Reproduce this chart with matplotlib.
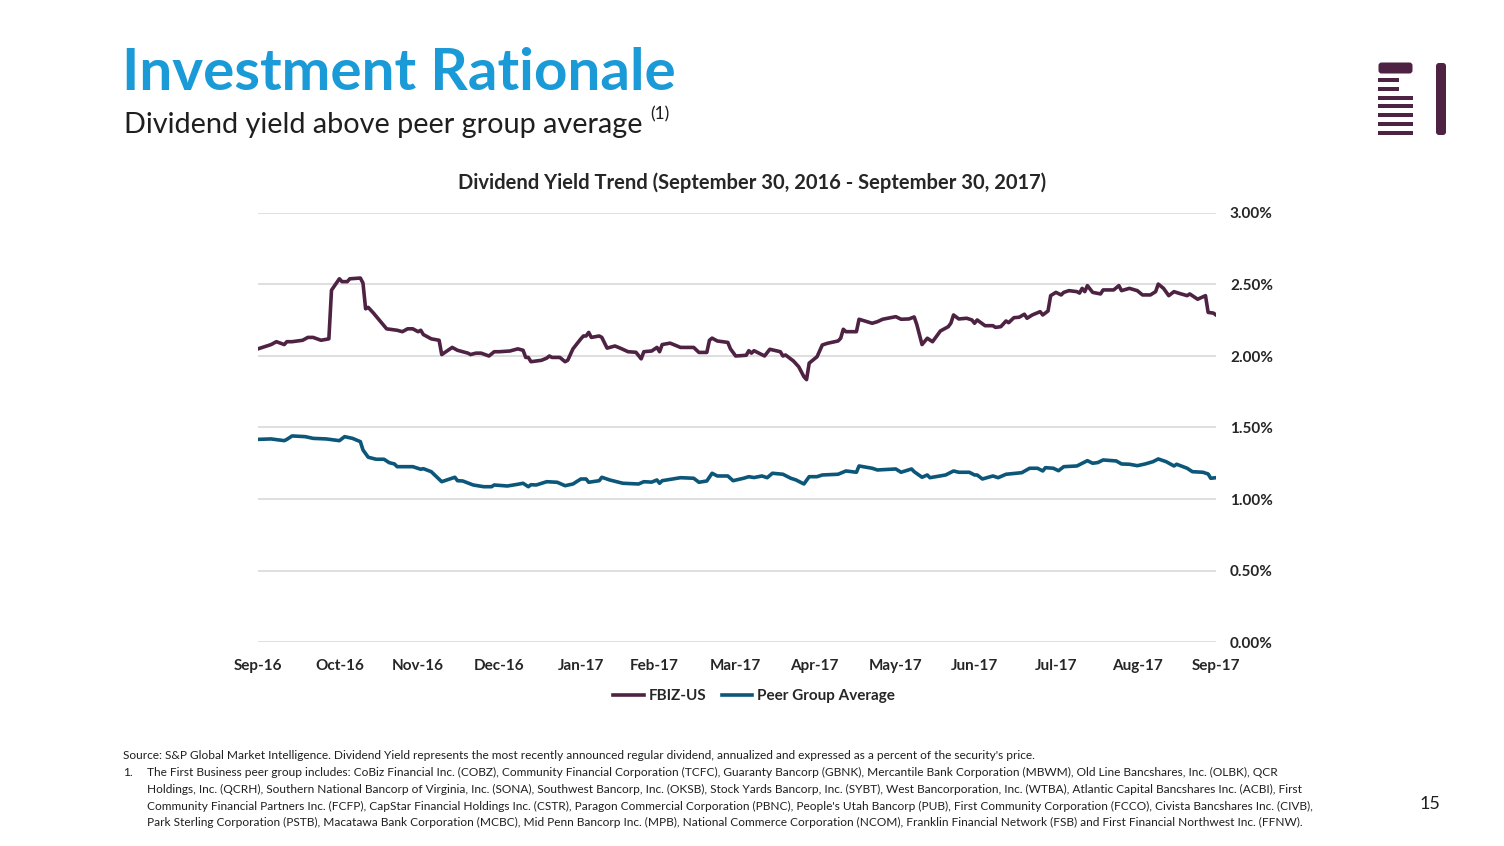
import datetime as dt
import matplotlib
matplotlib.use("Agg")
import matplotlib.pyplot as plt
import matplotlib.dates as mdates
from matplotlib.patches import Rectangle, FancyBboxPatch
import pandas as pd

plt.rcParams['font.family'] = ['Lato', 'DejaVu Sans']

start = dt.date(2016, 9, 30)

# days since Sep 30, 2016 and dividend yield (%)
fbiz_days = [0, 5, 7, 10, 11, 13, 17, 19, 21, 24, 27, 28, 31, 32, 34, 35, 39, 40, 41, 42,
             44, 49, 53, 55, 57, 59, 61, 62, 63, 66, 69, 70, 74, 76, 80, 81, 83, 85, 88, 90,
             92, 96, 99, 101, 102, 103, 104, 108, 110, 111, 112, 115, 117, 118, 120, 123, 124, 125, 126, 127,
             130, 131, 133, 136, 138, 141, 144, 146, 147, 150, 152, 153, 154, 157, 161, 166, 168, 171, 172, 173,
             175, 179, 180, 182, 186, 187, 188, 189, 193, 195, 199, 200, 201, 204, 206, 208, 209, 210, 213, 215,
             217, 221, 222, 223, 224, 228, 229, 234, 236, 238, 243, 245, 248, 250, 251, 253, 255, 257, 260, 263,
             264, 265, 267, 270, 272, 273, 274, 277, 280, 281, 283, 285, 286, 288, 290, 292, 293, 295, 298, 299,
             301, 302, 304, 306, 307, 309, 312, 313, 314, 315, 316, 318, 321, 322, 326, 328, 329, 332, 335, 337,
             340, 342, 343, 345, 347, 349, 351, 354, 355, 358, 361, 362, 364, 365]
fbiz_yield = [2.05, 2.08, 2.10, 2.08, 2.10, 2.10, 2.11, 2.13, 2.13, 2.11, 2.12, 2.46, 2.54, 2.52, 2.52, 2.54, 2.545, 2.51, 2.33, 2.34,
              2.30, 2.19, 2.18, 2.17, 2.19, 2.19, 2.17, 2.18, 2.15, 2.12, 2.11, 2.01, 2.06, 2.04, 2.02, 2.01, 2.02, 2.02, 2.00, 2.03,
              2.03, 2.035, 2.05, 2.04, 1.99, 1.99, 1.96, 1.97, 1.985, 2.00, 1.99, 1.99, 1.96, 1.97, 2.05, 2.12, 2.14, 2.14, 2.165, 2.13,
              2.14, 2.13, 2.055, 2.07, 2.055, 2.03, 2.026, 1.98, 2.03, 2.035, 2.06, 2.03, 2.08, 2.09, 2.06, 2.06, 2.025, 2.025, 2.11, 2.125,
              2.105, 2.095, 2.05, 2.00, 2.005, 2.037, 2.02, 2.037, 2.00, 2.047, 2.03, 2.00, 2.007, 1.965, 1.925, 1.855, 1.835, 1.95, 1.995, 2.077,
              2.089, 2.105, 2.124, 2.187, 2.17, 2.17, 2.257, 2.229, 2.24, 2.257, 2.275, 2.257, 2.259, 2.273, 2.22, 2.08, 2.124, 2.10, 2.175, 2.205,
              2.23, 2.287, 2.259, 2.264, 2.252, 2.229, 2.252, 2.212, 2.212, 2.20, 2.205, 2.245, 2.233, 2.268, 2.271, 2.292, 2.264, 2.287, 2.31, 2.287,
              2.315, 2.422, 2.445, 2.427, 2.445, 2.457, 2.45, 2.44, 2.473, 2.45, 2.492, 2.445, 2.434, 2.462, 2.462, 2.492, 2.457, 2.473, 2.457, 2.427,
              2.427, 2.45, 2.503, 2.473, 2.422, 2.45, 2.438, 2.422, 2.434, 2.397, 2.422, 2.305, 2.30, 2.287]

peer_days = [0, 5, 10, 11, 13, 18, 21, 26, 31, 33, 36, 39, 40, 42, 45, 48, 50, 52, 53, 59,
             62, 63, 66, 70, 75, 76, 78, 82, 86, 89, 90, 95, 99, 101, 103, 104, 106, 110, 114, 117,
             120, 123, 125, 126, 130, 131, 134, 139, 145, 147, 150, 152, 153, 154, 161, 166, 168, 171, 173, 175,
             179, 181, 185, 187, 189, 192, 194, 196, 200, 203, 205, 208, 210, 213, 215, 221, 224, 228, 229, 234,
             236, 243, 245, 249, 250, 253, 255, 256, 262, 265, 267, 271, 273, 274, 276, 280, 282, 285, 291, 294,
             297, 299, 300, 303, 305, 307, 312, 316, 318, 320, 322, 327, 329, 332, 335, 338, 341, 343, 346, 349,
             350, 354, 356, 360, 362, 363, 365]
peer_yield = [1.417, 1.42, 1.408, 1.417, 1.441, 1.436, 1.424, 1.42, 1.408, 1.436, 1.424, 1.401, 1.343, 1.292, 1.278, 1.278, 1.254, 1.245, 1.226, 1.226,
              1.208, 1.212, 1.191, 1.121, 1.152, 1.128, 1.126, 1.098, 1.086, 1.086, 1.098, 1.091, 1.103, 1.11, 1.086, 1.10, 1.098, 1.121, 1.117, 1.093,
              1.105, 1.14, 1.14, 1.117, 1.128, 1.152, 1.133, 1.11, 1.105, 1.121, 1.118, 1.133, 1.11, 1.128, 1.149, 1.145, 1.117, 1.126, 1.18, 1.161,
              1.161, 1.128, 1.145, 1.156, 1.15, 1.161, 1.149, 1.18, 1.173, 1.145, 1.133, 1.105, 1.156, 1.156, 1.168, 1.173, 1.196, 1.187, 1.231, 1.215,
              1.203, 1.21, 1.187, 1.21, 1.191, 1.152, 1.168, 1.149, 1.168, 1.196, 1.187, 1.187, 1.168, 1.168, 1.14, 1.161, 1.149, 1.173, 1.184, 1.215,
              1.215, 1.196, 1.219, 1.215, 1.198, 1.226, 1.231, 1.268, 1.25, 1.255, 1.273, 1.266, 1.245, 1.243, 1.233, 1.245, 1.261, 1.28, 1.261, 1.231,
              1.243, 1.215, 1.191, 1.187, 1.175, 1.145, 1.149]

y_ticks = [0.0, 0.5, 1.0, 1.5, 2.0, 2.5, 3.0]

maroon = "#4E2242"
teal = "#0C5679"
W, H = 1504, 846

fbiz_dates = [start + dt.timedelta(days=d) for d in fbiz_days]
peer_dates = [start + dt.timedelta(days=d) for d in peer_days]

fig = plt.figure(figsize=(W / 100, H / 100), dpi=100)
fig.patch.set_facecolor("white")

# header
fig.text(122 / W, 1 - 90 / H, "Investment Rationale", color="#1A9AD7", fontsize=42, fontweight="bold", va="baseline")
fig.text(124 / W, 1 - 133 / H, "Dividend yield above peer group average", color="#1F1F1F", fontsize=20.8, va="baseline")
fig.text(650 / W, 1 - 119 / H, "(1)", color="#1F1F1F", fontsize=12.5, va="baseline")

# logo
lax = fig.add_axes([1370 / W, 1 - 142 / H, 85 / W, 84 / H])
lax.set_xlim(1370, 1455)
lax.set_ylim(142, 58)
lax.axis("off")
lax.add_patch(FancyBboxPatch((1380, 64), 31, 8, boxstyle="round,pad=1.5,rounding_size=3", fc=maroon, ec="none"))
for y0 in [78, 87]:
    lax.add_patch(Rectangle((1378, y0), 21, 4, fc=maroon, ec="none"))
for y0 in [96, 104, 113, 122, 131]:
    lax.add_patch(Rectangle((1378, y0), 35, 4, fc=maroon, ec="none"))
lax.add_patch(FancyBboxPatch((1437, 64), 8, 70, boxstyle="round,pad=1,rounding_size=3", fc=maroon, ec="none"))

# chart
ax = fig.add_axes([258 / W, 1 - 642 / H, 958 / W, 429 / H])
ax.plot(fbiz_dates, fbiz_yield, color=maroon, lw=2.6, label="FBIZ-US", solid_joinstyle="round")
ax.plot(peer_dates, peer_yield, color=teal, lw=2.6, label="Peer Group Average", solid_joinstyle="round")
ax.set_xlim(start, start + dt.timedelta(days=365))
ax.set_ylim(0, 3)
ax.set_yticks(y_ticks)
ax.set_yticklabels(["{:.2f}%".format(v) for v in y_ticks])
ax.yaxis.tick_right()
ax.yaxis.grid(True, color="#D9D9D9", lw=1.2)
ax.set_axisbelow(True)
month_ends = [d.date() for d in pd.date_range("2016-09-30", "2017-09-30", freq="ME")]
ax.set_xticks(month_ends)
ax.xaxis.set_major_formatter(mdates.DateFormatter("%b-%y"))
ax.tick_params(axis="both", length=0, labelsize=11, colors="#262626")
ax.tick_params(axis="x", pad=12)
ax.tick_params(axis="y", pad=10)
for lbl in ax.get_xticklabels() + ax.get_yticklabels():
    lbl.set_fontweight("bold")
for s in ax.spines.values():
    s.set_visible(False)

fig.text(752 / W, 1 - 189 / H, "Dividend Yield Trend (September 30, 2016 - September 30, 2017)",
         ha="center", va="baseline", fontsize=14.5, fontweight="bold", color="#262626")

leg = fig.legend(loc="center", bbox_to_anchor=(754 / W, 1 - 696 / H), ncol=2, frameon=False,
                 handlelength=2.0, columnspacing=1.0, handletextpad=0.3,
                 prop={"weight": "bold", "size": 11})
for t in leg.get_texts():
    t.set_color("#262626")

# footnotes
fn = 8.55
fig.text(123 / W, 1 - 759 / H, "Source: S&P Global Market Intelligence. Dividend Yield represents the most recently announced regular dividend, annualized and expressed as a percent of the security's price.",
         fontsize=fn, color="#1F1F1F", va="baseline")
fig.text(123 / W, 1 - 776 / H, "1.", fontsize=fn, color="#1F1F1F", va="baseline")
note_lines = [
    "The First Business peer group includes: CoBiz Financial Inc. (COBZ), Community Financial Corporation (TCFC), Guaranty Bancorp (GBNK), Mercantile Bank Corporation (MBWM), Old Line Bancshares, Inc. (OLBK), QCR",
    "Holdings, Inc. (QCRH), Southern National Bancorp of Virginia, Inc. (SONA), Southwest Bancorp, Inc. (OKSB), Stock Yards Bancorp, Inc. (SYBT), West Bancorporation, Inc. (WTBA), Atlantic Capital Bancshares Inc. (ACBI), First",
    "Community Financial Partners Inc. (FCFP), CapStar Financial Holdings Inc. (CSTR), Paragon Commercial Corporation (PBNC), People's Utah Bancorp (PUB), First Community Corporation (FCCO), Civista Bancshares Inc. (CIVB),",
    "Park Sterling Corporation (PSTB), Macatawa Bank Corporation (MCBC), Mid Penn Bancorp Inc. (MPB), National Commerce Corporation (NCOM), Franklin Financial Network (FSB) and First Financial Northwest Inc. (FFNW).",
]
for i, line in enumerate(note_lines):
    fig.text(147 / W, 1 - (776 + 16.8 * i) / H, line, fontsize=fn, color="#1F1F1F", va="baseline")

fig.text(1430 / W, 1 - 809 / H, "15", fontsize=13, color="#1F1F1F", ha="center", va="baseline")

fig.savefig("out.png", dpi=100)
